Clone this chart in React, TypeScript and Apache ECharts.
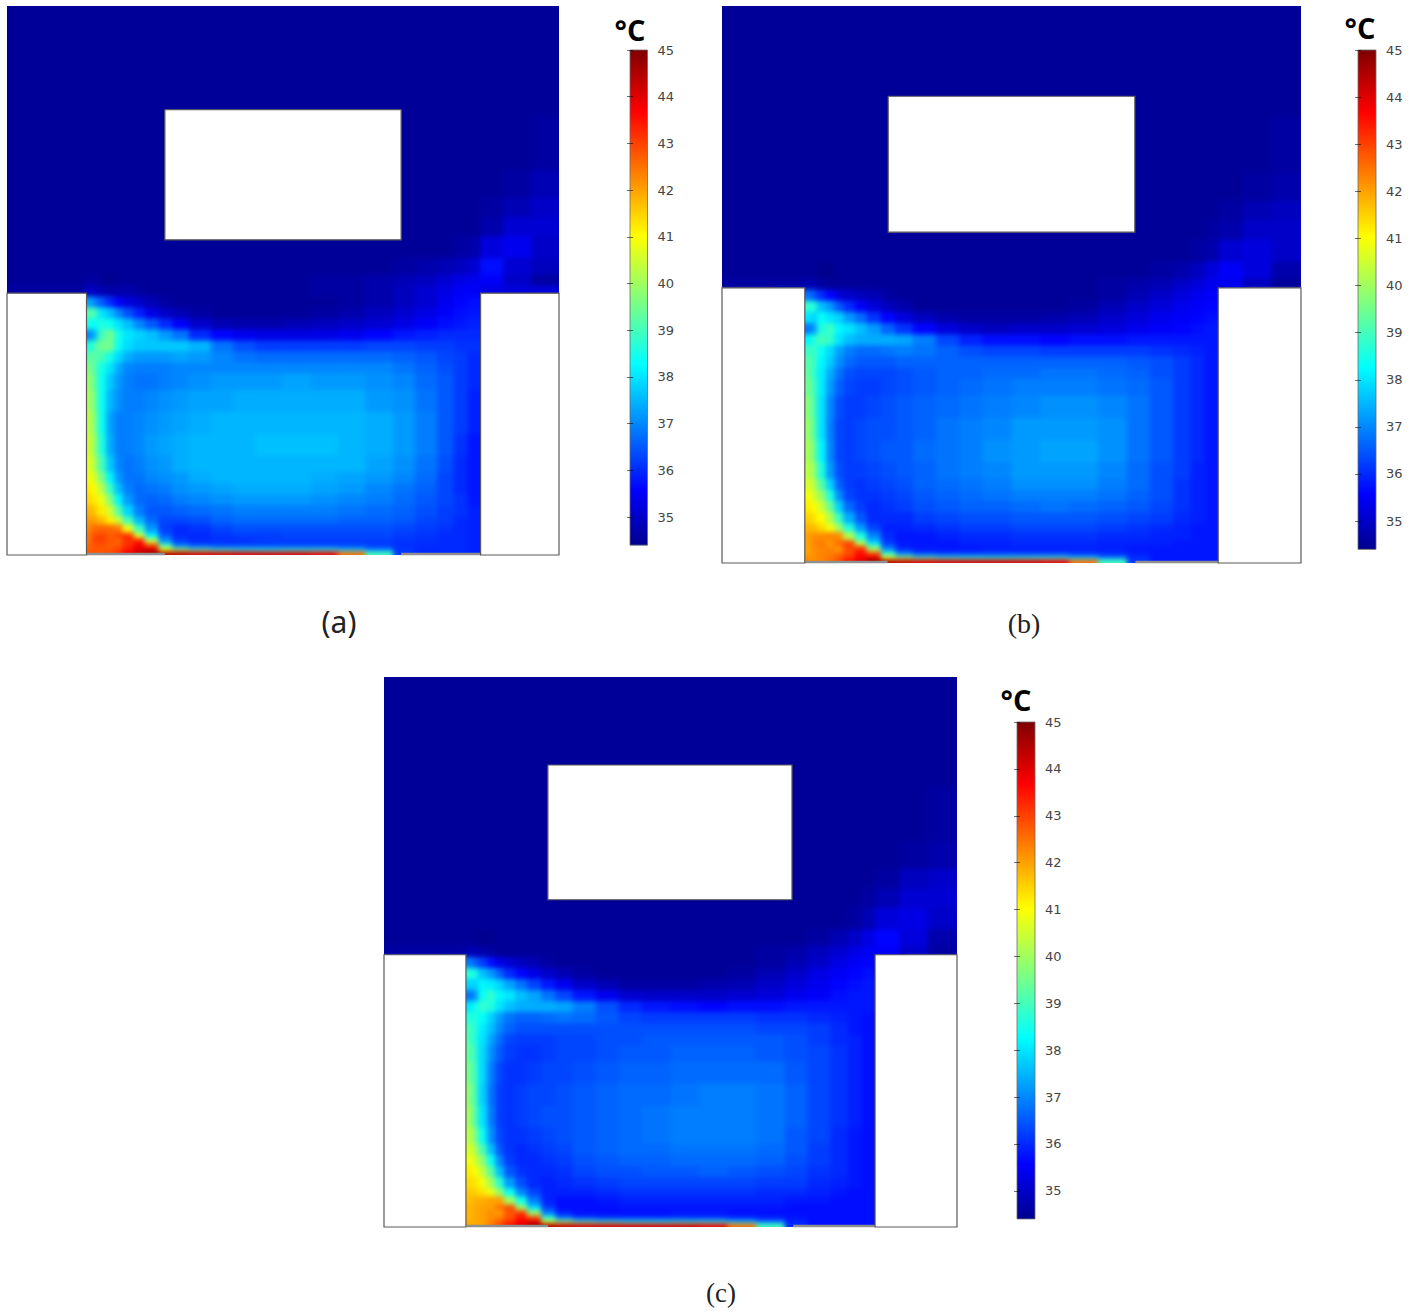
import React, { useEffect, useRef } from "react";
import * as echarts from "echarts";

const _ = null;
const tickValues = [35, 36, 37, 38, 39, 40, 41, 42, 43, 44, 45];
const xEdges = [0, 7, 14.4, 15.5, 16.5, 18, 19.5, 21, 23, 25, 27.5, 30, 33, 37, 41, 45, 50, 55, 60, 65, 70, 74, 78, 81, 83.5, 85.8, 90, 95, 100];
const yEdges = [0, 20, 30, 35, 38.5, 42, 46, 49, 51, 53, 55, 57, 59, 61, 63, 65, 67, 70, 74, 78, 82, 85, 87, 89, 91, 93, 94.5, 96, 97, 98, 98.8, 99.4, 100];

const tempA = [
  [34.5,34.5,34.5,34.5,34.5,34.5,34.5,34.5,34.5,34.5,34.5,34.5,34.5,34.5,34.5,34.5,34.5,34.5,34.5,34.5,34.5,34.5,34.5,34.5,34.5,34.5,34.5,34.5],
  [34.5,34.5,34.5,34.5,34.5,34.5,34.5,34.5,34.5,34.5,34.5,34.5,34.5,34.5,34.5,34.5,34.5,34.5,34.5,34.5,34.5,34.5,34.5,34.5,34.5,34.5,34.5,34.6],
  [34.5,34.5,34.5,34.5,34.5,34.5,34.5,34.5,34.5,34.5,34.5,34.5,34.5,34.5,34.5,34.5,34.5,34.5,34.5,34.5,34.5,34.5,34.5,34.5,34.5,34.5,34.6,34.8],
  [34.5,34.5,34.5,34.5,34.5,34.5,34.5,34.5,34.5,34.5,34.5,34.5,34.5,34.5,34.5,34.5,34.5,34.5,34.5,34.5,34.5,34.5,34.5,34.5,34.5,34.6,34.8,35.0],
  [34.5,34.5,34.5,34.5,34.5,34.5,34.5,34.5,34.5,34.5,34.5,34.5,34.5,34.5,34.5,34.5,34.5,34.5,34.5,34.5,34.5,34.5,34.5,34.5,34.5,34.7,35.1,35.1],
  [34.5,34.5,34.5,34.5,34.5,34.5,34.5,34.5,34.5,34.5,34.5,34.5,34.5,34.5,34.5,34.5,34.5,34.5,34.5,34.5,34.5,34.5,34.5,34.6,34.7,35.2,35.4,35.0],
  [34.5,34.5,34.5,34.5,34.5,34.5,34.5,34.5,34.5,34.5,34.5,34.5,34.5,34.5,34.5,34.5,34.5,34.5,34.5,34.5,34.6,34.7,34.8,34.9,35.1,35.7,35.1,34.9],
  [34.5,34.5,34.6,34.6,34.5,34.4,34.5,34.5,34.5,34.5,34.5,34.5,34.5,34.5,34.5,34.5,34.5,34.6,34.6,34.7,34.8,34.9,35.1,35.3,35.4,35.5,35.0,34.6],
  [34.6,34.6,35.0,34.9,34.8,34.7,34.7,34.7,34.6,34.5,34.5,34.5,34.5,34.5,34.5,34.5,34.5,34.6,34.6,34.7,34.9,35.1,35.3,35.5,35.5,35.3,35.2,35.2],
  [_,_,37.3,37,36.5,36,35.5,35.2,35,34.8,34.6,34.5,34.5,34.5,34.5,34.5,34.5,34.5,34.6,34.7,34.9,35.1,35.4,35.6,35.7,_,_,_],
  [_,_,39.2,39,38,37.6,37,36.4,35.9,35.3,35,34.8,34.6,34.5,34.5,34.5,34.5,34.6,34.7,34.9,35.1,35.3,35.5,35.7,35.8,_,_,_],
  [_,_,38.5,38.3,38.6,38.4,38,37.6,37,36.5,36,35.5,35,34.8,34.7,34.7,34.8,34.9,35,35.1,35.3,35.5,35.7,35.8,35.9,_,_,_],
  [_,_,37,37.5,39,39.5,38.5,38,37.8,37.6,37.2,36.8,36,35.6,35.4,35.3,35.3,35.3,35.4,35.6,35.8,35.9,36,36,36,_,_,_],
  [_,_,38.5,39,39.5,39.5,38.4,37.9,37.7,37.7,37.7,37.7,37.5,36.8,36.4,36.2,36.2,36.2,36.2,36.3,36.3,36.2,36.2,36.1,36.1,_,_,_],
  [_,_,39.2,39.3,39,38.5,37.9,37.4,37.2,37.2,37.2,37.3,37.2,37,36.8,36.7,36.7,36.7,36.7,36.7,36.6,36.5,36.3,36.2,36,_,_,_],
  [_,_,39.6,39.2,38.5,38,37.4,37,36.9,36.9,36.9,37,37,37,37,37,37,37,37,37,36.8,36.6,36.4,36.2,36,_,_,_],
  [_,_,39.9,39.3,38.4,37.7,37.2,36.9,36.8,36.8,36.9,37,37.1,37.2,37.2,37.2,37.3,37.2,37.2,37.1,37,36.7,36.5,36.2,36,_,_,_],
  [_,_,40.1,39.5,38.4,37.5,37.1,36.9,36.9,37,37.1,37.2,37.3,37.3,37.4,37.4,37.4,37.4,37.4,37.2,37.1,36.8,36.5,36.2,35.9,_,_,_],
  [_,_,40.3,39.7,38.4,37.3,36.9,36.9,37,37.1,37.2,37.3,37.4,37.5,37.5,37.5,37.5,37.5,37.5,37.4,37.2,36.9,36.5,36.2,35.9,_,_,_],
  [_,_,40.5,39.9,38.6,37.4,36.9,36.9,37,37.2,37.3,37.4,37.5,37.5,37.5,37.6,37.6,37.6,37.5,37.4,37.2,36.9,36.5,36.1,35.8,_,_,_],
  [_,_,40.7,40.2,39,37.7,37,36.8,36.9,37.1,37.2,37.4,37.5,37.5,37.5,37.5,37.5,37.5,37.5,37.3,37.1,36.8,36.4,36,35.8,_,_,_],
  [_,_,40.9,40.6,39.6,38.2,37.2,36.8,36.8,37,37.1,37.2,37.4,37.5,37.5,37.5,37.5,37.4,37.3,37.2,37,36.7,36.3,36,35.8,_,_,_],
  [_,_,41.2,41,40.2,38.9,37.6,36.9,36.7,36.8,36.9,37.1,37.2,37.3,37.4,37.4,37.4,37.3,37.2,37,36.8,36.6,36.3,36,35.8,_,_,_],
  [_,_,41.4,41.2,40.8,39.7,38.2,37.2,36.7,36.6,36.7,36.9,37,37.1,37.2,37.2,37.2,37.1,37,36.9,36.7,36.5,36.3,36.1,35.8,_,_,_],
  [_,_,41.8,41.6,41.2,40.5,39.2,37.8,36.9,36.5,36.5,36.6,36.7,36.8,36.9,36.9,36.9,36.9,36.8,36.7,36.6,36.4,36.2,36.1,35.9,_,_,_],
  [_,_,42.1,42,41.7,41.2,40.4,39,37.5,36.7,36.3,36.3,36.4,36.6,36.7,36.7,36.7,36.7,36.6,36.6,36.5,36.3,36.2,36,35.9,_,_,_],
  [_,_,42.3,42.6,42.6,42.6,42.4,40.8,38.9,37.2,36.2,36,36.1,36.3,36.4,36.4,36.4,36.4,36.4,36.4,36.3,36.2,36.1,36,35.9,_,_,_],
  [_,_,42.5,42.9,43,42.7,43,43.2,40.6,38.2,36.5,36,36,36.1,36.2,36.2,36.3,36.3,36.3,36.3,36.2,36.1,36,36,35.9,_,_,_],
  [_,_,42.5,43,43,42.8,42.6,43.2,43.4,40.4,37.2,36.2,36,36.1,36.1,36.2,36.2,36.2,36.2,36.2,36.1,36.1,36,36,35.9,_,_,_],
  [_,_,42.6,42.8,42.8,42.7,42.8,43.2,43.8,43.2,39.2,37,36.5,36.3,36.3,36.3,36.3,36.3,36.3,36.2,36.1,36,36,36,35.9,_,_,_],
  [_,_,42.7,42.8,42.8,42.8,43,43.5,44,44.2,41,40,39.2,38.8,38.5,38.5,38.6,38.6,37.8,36.9,36.1,36,36,36,35.9,_,_,_],
  [_,_,42.8,42.8,42.8,42.9,43.2,43.8,44.2,44.6,44.5,44.3,44,44,44,44,44,43.8,42.5,39,36.2,36,36,36,35.9,_,_,_],
];

const tempB = [
  [34.5,34.5,34.5,34.5,34.5,34.5,34.5,34.5,34.5,34.5,34.5,34.5,34.5,34.5,34.5,34.5,34.5,34.5,34.5,34.5,34.5,34.5,34.5,34.5,34.5,34.5,34.5,34.5],
  [34.5,34.5,34.5,34.5,34.5,34.5,34.5,34.5,34.5,34.5,34.5,34.5,34.5,34.5,34.5,34.5,34.5,34.5,34.5,34.5,34.5,34.5,34.5,34.5,34.5,34.5,34.5,34.6],
  [34.5,34.5,34.5,34.5,34.5,34.5,34.5,34.5,34.5,34.5,34.5,34.5,34.5,34.5,34.5,34.5,34.5,34.5,34.5,34.5,34.5,34.5,34.5,34.5,34.5,34.5,34.6,34.7],
  [34.5,34.5,34.5,34.5,34.5,34.5,34.5,34.5,34.5,34.5,34.5,34.5,34.5,34.5,34.5,34.5,34.5,34.5,34.5,34.5,34.5,34.5,34.5,34.5,34.5,34.6,34.8,34.9],
  [34.5,34.5,34.5,34.5,34.5,34.5,34.5,34.5,34.5,34.5,34.5,34.5,34.5,34.5,34.5,34.5,34.5,34.5,34.5,34.5,34.5,34.5,34.5,34.5,34.6,34.7,35.0,35.0],
  [34.5,34.5,34.5,34.5,34.5,34.5,34.5,34.5,34.5,34.5,34.5,34.5,34.5,34.5,34.5,34.5,34.5,34.5,34.5,34.5,34.5,34.5,34.5,34.6,34.7,35.1,35.2,35.0],
  [34.5,34.5,34.5,34.5,34.4,34.4,34.5,34.5,34.5,34.5,34.5,34.5,34.5,34.5,34.5,34.5,34.5,34.5,34.5,34.5,34.5,34.6,34.7,34.9,35.2,35.5,35.2,34.7],
  [34.6,34.6,34.8,34.7,34.6,34.5,34.5,34.5,34.5,34.5,34.5,34.5,34.5,34.5,34.5,34.5,34.5,34.5,34.5,34.6,34.7,34.8,35.0,35.2,35.4,35.4,34.9,34.5],
  [_,_,36.8,36.5,36,35.6,35.2,35,34.9,34.8,34.6,34.5,34.5,34.5,34.5,34.5,34.5,34.5,34.5,34.6,34.8,35,35.2,35.4,35.5,_,_,_],
  [_,_,38.8,38.6,37.6,37.2,36.5,36,35.5,35.2,34.9,34.7,34.5,34.5,34.5,34.5,34.5,34.5,34.6,34.8,35,35.2,35.4,35.5,35.6,_,_,_],
  [_,_,38,37.8,38.3,38,37.8,37.2,36.7,36.1,35.6,35.2,34.9,34.7,34.6,34.6,34.6,34.7,34.8,35,35.2,35.4,35.5,35.6,35.7,_,_,_],
  [_,_,36.8,37.2,38.6,38.9,38.2,38,37.6,37.2,36.6,36.1,35.6,35.2,35,34.9,35,35,35.1,35.2,35.4,35.5,35.6,35.7,35.8,_,_,_],
  [_,_,38.2,38.6,39,38.8,38,37.6,37.4,37.4,37.4,37.3,36.9,36.3,35.9,35.7,35.7,35.6,35.7,35.7,35.8,35.8,35.8,35.8,35.8,_,_,_],
  [_,_,38.9,38.9,38.4,37.9,37.3,36.9,36.7,36.7,36.8,36.9,36.8,36.6,36.4,36.3,36.3,36.2,36.2,36.2,36.2,36.1,36,35.9,35.8,_,_,_],
  [_,_,39.2,38.9,38.2,37.7,37.1,36.7,36.5,36.5,36.5,36.6,36.6,36.6,36.6,36.6,36.6,36.6,36.6,36.6,36.5,36.4,36.2,36,35.8,_,_,_],
  [_,_,39.3,38.8,38.1,37.4,36.8,36.4,36.3,36.3,36.3,36.4,36.5,36.6,36.6,36.7,36.7,36.8,36.8,36.7,36.6,36.4,36.2,36,35.8,_,_,_],
  [_,_,39.5,39,38.1,37.2,36.6,36.3,36.2,36.2,36.3,36.4,36.5,36.6,36.7,36.8,36.9,36.9,36.9,36.8,36.7,36.5,36.2,36,35.8,_,_,_],
  [_,_,39.7,39.1,38,37,36.4,36.2,36.2,36.3,36.4,36.5,36.6,36.7,36.8,36.9,37,37.1,37.1,37,36.8,36.5,36.2,36,35.8,_,_,_],
  [_,_,39.9,39.2,38,36.9,36.3,36.2,36.3,36.4,36.4,36.5,36.6,36.8,36.9,37,37.2,37.2,37.2,37.1,36.8,36.5,36.2,36,35.8,_,_,_],
  [_,_,40.1,39.5,38.2,37,36.3,36.2,36.3,36.4,36.5,36.5,36.7,36.8,36.9,37.1,37.2,37.3,37.3,37.1,36.8,36.5,36.2,36,35.8,_,_,_],
  [_,_,40.3,39.9,38.6,37.2,36.4,36.2,36.2,36.3,36.4,36.5,36.6,36.8,36.9,37,37.2,37.2,37.2,37,36.7,36.4,36.2,35.9,35.8,_,_,_],
  [_,_,40.6,40.3,39.2,37.8,36.6,36.2,36.1,36.2,36.3,36.4,36.6,36.7,36.8,36.9,37.1,37.1,37.1,36.9,36.7,36.4,36.1,35.9,35.8,_,_,_],
  [_,_,40.9,40.6,39.9,38.6,37.1,36.3,36.1,36.1,36.2,36.3,36.5,36.6,36.7,36.8,36.9,36.9,36.9,36.8,36.6,36.4,36.1,35.9,35.8,_,_,_],
  [_,_,41.2,41,40.5,39.4,37.8,36.7,36.2,36,36.1,36.2,36.4,36.5,36.6,36.6,36.7,36.8,36.7,36.6,36.5,36.3,36.1,35.9,35.8,_,_,_],
  [_,_,41.5,41.3,41,40.2,38.9,37.4,36.5,36,36,36,36.2,36.3,36.4,36.4,36.5,36.5,36.5,36.4,36.3,36.2,36,35.9,35.8,_,_,_],
  [_,_,41.8,41.7,41.4,40.9,40,38.6,37.2,36.3,35.9,35.9,36,36.1,36.2,36.2,36.3,36.3,36.3,36.2,36.1,36,35.9,35.8,35.8,_,_,_],
  [_,_,42,42.2,42.2,42.3,42.2,40.2,38.6,37,36,35.8,35.8,35.9,36,36,36.1,36.1,36.1,36,36,35.9,35.9,35.8,35.8,_,_,_],
  [_,_,42,42.3,42.4,42.1,42.6,43,40.2,38,36.2,35.8,35.8,35.8,35.9,35.9,36,36,36,35.9,35.9,35.9,35.8,35.8,35.8,_,_,_],
  [_,_,42,42.2,42.3,42.3,42.1,42.9,43.2,40,37,36,35.8,35.8,35.8,35.9,35.9,35.9,35.9,35.9,35.8,35.8,35.8,35.8,35.8,_,_,_],
  [_,_,42,42.2,42.3,42.4,42.5,42.9,43.6,43,38.9,37,36.4,36.2,36.2,36.2,36.2,36.2,36.1,36,35.9,35.8,35.8,35.8,35.8,_,_,_],
  [_,_,42.2,42.2,42.3,42.5,42.8,43.2,43.7,44,40.8,40,39.2,38.8,38.6,38.6,38.7,38.7,37.8,36.9,36,35.8,35.8,35.8,35.8,_,_,_],
  [_,_,42.2,42.2,42.3,42.5,42.9,43.5,44,44.6,44.5,44.2,44,44,44,44,44,43.8,42.5,39,36.2,35.8,35.8,35.8,35.8,_,_,_],
];

const tempC = [
  [34.5,34.5,34.5,34.5,34.5,34.5,34.5,34.5,34.5,34.5,34.5,34.5,34.5,34.5,34.5,34.5,34.5,34.5,34.5,34.5,34.5,34.5,34.5,34.5,34.5,34.5,34.5,34.5],
  [34.5,34.5,34.5,34.5,34.5,34.5,34.5,34.5,34.5,34.5,34.5,34.5,34.5,34.5,34.5,34.5,34.5,34.5,34.5,34.5,34.5,34.5,34.5,34.5,34.5,34.5,34.5,34.6],
  [34.5,34.5,34.5,34.5,34.5,34.5,34.5,34.5,34.5,34.5,34.5,34.5,34.5,34.5,34.5,34.5,34.5,34.5,34.5,34.5,34.5,34.5,34.5,34.5,34.5,34.5,34.6,34.7],
  [34.5,34.5,34.5,34.5,34.5,34.5,34.5,34.5,34.5,34.5,34.5,34.5,34.5,34.5,34.5,34.5,34.5,34.5,34.5,34.5,34.5,34.5,34.5,34.5,34.5,34.6,34.9,35.0],
  [34.5,34.5,34.5,34.5,34.5,34.5,34.5,34.5,34.5,34.5,34.5,34.5,34.5,34.5,34.5,34.5,34.5,34.5,34.5,34.5,34.5,34.5,34.5,34.5,34.6,34.8,35.1,35.1],
  [34.5,34.5,34.5,34.5,34.5,34.5,34.5,34.5,34.5,34.5,34.5,34.5,34.5,34.5,34.5,34.5,34.5,34.5,34.5,34.5,34.5,34.5,34.5,34.6,34.8,35.2,35.3,35.0],
  [34.5,34.5,34.5,34.5,34.4,34.4,34.5,34.5,34.5,34.5,34.5,34.5,34.5,34.5,34.5,34.5,34.5,34.5,34.5,34.5,34.5,34.6,34.8,35.0,35.3,35.6,35.2,34.7],
  [34.6,34.6,34.8,34.8,34.7,34.6,34.5,34.5,34.5,34.5,34.5,34.5,34.5,34.5,34.5,34.5,34.5,34.5,34.5,34.6,34.7,34.9,35.1,35.3,35.5,35.5,35,34.6],
  [_,_,36.9,36.6,36.2,35.7,35.3,35.1,34.9,34.8,34.6,34.5,34.5,34.5,34.5,34.5,34.5,34.5,34.5,34.6,34.8,35,35.3,35.5,35.6,_,_,_],
  [_,_,38.7,38.5,37.6,37.2,36.6,36,35.6,35.3,35,34.8,34.6,34.5,34.5,34.5,34.5,34.5,34.6,34.8,35,35.3,35.5,35.6,35.7,_,_,_],
  [_,_,37.8,37.8,38.2,38.1,37.8,37.3,36.8,36.3,35.8,35.4,35,34.8,34.6,34.6,34.6,34.7,34.8,35,35.2,35.4,35.6,35.7,35.8,_,_,_],
  [_,_,36.8,37.1,38.4,38.8,38.2,38,37.6,37.3,36.8,36.3,35.8,35.4,35.1,35,35,35,35.1,35.2,35.4,35.5,35.7,35.8,35.8,_,_,_],
  [_,_,38,38.4,38.8,38.6,38,37.6,37.4,37.4,37.4,37.3,36.9,36.4,36,35.8,35.7,35.6,35.7,35.7,35.8,35.8,35.8,35.8,35.8,_,_,_],
  [_,_,38.6,38.6,38.3,37.8,37.2,36.8,36.6,36.6,36.7,36.8,36.7,36.5,36.3,36.2,36.2,36.2,36.2,36.1,36.1,36,35.9,35.8,35.7,_,_,_],
  [_,_,39,38.7,38.1,37.6,37,36.6,36.4,36.4,36.4,36.4,36.4,36.4,36.4,36.4,36.4,36.4,36.4,36.3,36.3,36.2,36,35.8,35.7,_,_,_],
  [_,_,39.1,38.6,38,37.3,36.7,36.3,36.2,36.2,36.2,36.3,36.3,36.4,36.4,36.5,36.5,36.5,36.5,36.5,36.4,36.2,36,35.9,35.7,_,_,_],
  [_,_,39.3,38.8,37.9,37.1,36.5,36.2,36.1,36.1,36.2,36.3,36.3,36.4,36.5,36.5,36.6,36.6,36.6,36.5,36.4,36.3,36.1,35.9,35.7,_,_,_],
  [_,_,39.5,38.9,37.9,36.9,36.3,36.1,36.1,36.2,36.3,36.3,36.4,36.5,36.6,36.6,36.7,36.7,36.7,36.7,36.5,36.3,36.1,35.9,35.7,_,_,_],
  [_,_,39.8,39,37.8,36.8,36.2,36.1,36.2,36.3,36.3,36.4,36.5,36.6,36.7,36.7,36.8,36.9,36.9,36.8,36.6,36.3,36.1,35.9,35.7,_,_,_],
  [_,_,40,39.2,38,36.9,36.2,36.1,36.2,36.3,36.4,36.4,36.5,36.6,36.7,36.8,36.9,36.9,36.9,36.8,36.6,36.3,36.1,35.9,35.7,_,_,_],
  [_,_,40.3,39.7,38.4,37.1,36.3,36.1,36.1,36.2,36.3,36.4,36.5,36.6,36.7,36.8,36.9,36.9,36.9,36.8,36.5,36.3,36,35.8,35.7,_,_,_],
  [_,_,40.6,40.2,39.1,37.6,36.5,36.1,36,36.1,36.2,36.3,36.5,36.6,36.7,36.7,36.8,36.8,36.8,36.7,36.5,36.2,36,35.8,35.7,_,_,_],
  [_,_,40.9,40.6,39.8,38.4,37,36.2,36,36,36.1,36.2,36.4,36.5,36.6,36.6,36.7,36.7,36.7,36.6,36.4,36.2,36,35.8,35.7,_,_,_],
  [_,_,41.2,41,40.4,39.2,37.6,36.5,36.1,36,36,36.1,36.3,36.4,36.4,36.5,36.5,36.6,36.5,36.4,36.3,36.1,36,35.8,35.7,_,_,_],
  [_,_,41.4,41.3,40.9,40,38.7,37.2,36.4,36,35.9,36,36.1,36.2,36.3,36.3,36.3,36.3,36.3,36.2,36.2,36,35.9,35.8,35.7,_,_,_],
  [_,_,41.6,41.5,41.3,40.8,39.8,38.4,37,36.3,35.9,35.9,35.9,36,36.1,36.1,36.1,36.1,36.1,36,36,35.9,35.8,35.7,35.7,_,_,_],
  [_,_,41.7,41.8,41.9,42,42,40,38.5,36.9,35.9,35.7,35.7,35.8,35.9,35.9,35.9,35.9,35.9,35.9,35.8,35.8,35.7,35.7,35.7,_,_,_],
  [_,_,41.8,41.9,42,42,42.5,42.9,40,37.9,36.2,35.7,35.7,35.7,35.8,35.8,35.8,35.8,35.8,35.8,35.7,35.7,35.7,35.7,35.7,_,_,_],
  [_,_,41.8,41.9,42,42.2,42,42.8,43.1,39.9,36.9,35.9,35.7,35.7,35.7,35.7,35.8,35.8,35.7,35.7,35.7,35.7,35.7,35.7,35.7,_,_,_],
  [_,_,41.8,41.9,42,42.2,42.4,42.8,43.5,43,38.8,36.9,36.3,36.1,36.1,36.1,36.1,36.1,36,35.9,35.8,35.7,35.7,35.7,35.7,_,_,_],
  [_,_,41.9,41.9,42,42.3,42.7,43.2,43.7,44,40.6,39.9,39.1,38.8,38.6,38.6,38.7,38.7,37.8,36.8,35.9,35.7,35.7,35.7,35.7,_,_,_],
  [_,_,41.9,41.9,42,42.4,42.9,43.5,44,44.6,44.5,44.2,44,44,44,44,44,43.8,42.5,39,36,35.7,35.7,35.7,35.7,_,_,_],
];

// obstacles, in percent of each domain: [x0, x1, y0, y1]
const solidsA = [[28.6, 71.4, 18.9, 42.6], [0, 14.4, 52.3, 100], [85.8, 100, 52.3, 100]];
const solidsB = [[28.7, 71.3, 16.2, 40.6], [0, 14.3, 50.6, 100], [85.7, 100, 50.6, 100]];
const solidsC = [[28.6, 71.2, 16, 40.5], [0, 14.3, 50.5, 100], [85.7, 100, 50.5, 100]];
// unheated floor strips beside the heated section: [x0, x1]
const floorStrips = [[14.4, 28.6], [71.4, 85.8]];

const jetStops: [number, number[]][] = [
  [0, [0, 0, 143]], [0.11, [0, 0, 255]], [0.365, [0, 255, 255]],
  [0.625, [255, 255, 0]], [0.875, [255, 0, 0]], [1, [128, 0, 0]],
];
const SCALE_MIN = 34.4, SCALE_MAX = 45;
function jet(t: number) {
  const c = Math.max(0, Math.min(1, t));
  for (let i = 1; i < jetStops.length; i++) {
    if (c <= jetStops[i][0]) {
      const [a, ca] = jetStops[i - 1], [b, cb] = jetStops[i];
      const f = (c - a) / (b - a);
      return `rgb(${ca.map((v, k) => Math.round(v + (cb[k] - v) * f)).join(",")})`;
    }
  }
  return "rgb(128,0,0)";
}
const tempColor = (v: number) => jet((v - SCALE_MIN) / (SCALE_MAX - SCALE_MIN));

function cells(table: (number | null)[][]) {
  const out: number[][] = [];
  table.forEach((row, j) => row.forEach((v, i) => {
    if (v == null) return;
    // cells beside a solid or the outer edge paint a little past it, so the soft filter does not fade there
    const padL = i === 0 || row[i - 1] == null ? 5 : 0;
    const padR = i === row.length - 1 || row[i + 1] == null ? 5 : 0;
    const padT = j === 0 ? 5 : 0;
    const padB = j === table.length - 1 ? 5 : 0;
    out.push([xEdges[i] - padL, xEdges[i + 1] + padR, yEdges[j] - padT, yEdges[j + 1] + padB, v]);
  }));
  return out;
}

const renderCell = (_p: any, api: any) => {
  const a = api.coord([api.value(0), api.value(2)]);
  const b = api.coord([api.value(1), api.value(3)]);
  return { type: "rect", shape: { x: a[0] - 0.4, y: a[1] - 0.4, width: b[0] - a[0] + 0.8, height: b[1] - a[1] + 0.8 }, style: { fill: tempColor(api.value(4)), stroke: null } };
};
const renderSolid = (_p: any, api: any) => {
  const a = api.coord([api.value(0), api.value(2)]);
  const b = api.coord([api.value(1), api.value(3)]);
  return { type: "rect", shape: { x: a[0], y: a[1], width: b[0] - a[0], height: b[1] - a[1] }, style: { fill: "#fff", stroke: "#5a5a5a", lineWidth: 1.2 } };
};
const renderStrip = (_p: any, api: any) => {
  const a = api.coord([api.value(0), 100]);
  const b = api.coord([api.value(1), 100]);
  return { type: "line", shape: { x1: a[0], y1: a[1] - 1, x2: b[0], y2: b[1] - 1 }, style: { stroke: "#8f8f8f", lineWidth: 2.4 } };
};
const renderBar = (_p: any, api: any) => {
  const a = api.coord([0, SCALE_MAX]);
  const b = api.coord([1, SCALE_MIN]);
  return {
    type: "rect", shape: { x: a[0], y: a[1], width: b[0] - a[0], height: b[1] - a[1] },
    style: {
      fill: new echarts.graphic.LinearGradient(0, 1, 0, 0, jetStops.map(([o]) => ({ offset: o, color: jet(o) }))),
      stroke: "#6b6b6b", lineWidth: 0.8,
    },
  };
};

const BLEED = 24;
const panels = [
  { field: tempA, solids: solidsA, box: [7, 6, 552, 549], bar: [630, 50, 17.5, 497], barMin: 34.36 },
  { field: tempB, solids: solidsB, box: [722, 6, 579, 557], bar: [1358, 50, 18, 497], barMin: 34.45 },
  { field: tempC, solids: solidsC, box: [384, 677, 573, 550], bar: [1017, 722, 18, 496], barMin: 34.42 },
];
const unitTexts = [
  { x: 630, y: 29 }, { x: 1360, y: 27 }, { x: 1016, y: 699 },
];
const panelLabels = [
  { text: "(a)", x: 339, y: 621, font: "Noto Sans", size: 30 },
  { text: "(b)", x: 1024, y: 623, font: "Liberation Serif", size: 28 },
  { text: "(c)", x: 721, y: 1293, font: "Liberation Serif", size: 27 },
];

function fieldOption(p: (typeof panels)[number]) {
  return {
    animation: false,
    grid: { left: BLEED, top: BLEED, width: p.box[2], height: p.box[3], show: false },
    xAxis: { type: "value", min: 0, max: 100, show: false },
    yAxis: { type: "value", min: 0, max: 100, inverse: true, show: false },
    series: [{ type: "custom", coordinateSystem: "cartesian2d", silent: true, progressive: 0, clip: false, data: cells(p.field), renderItem: renderCell }],
  };
}

function overlayOption() {
  const grid: any[] = [], xAxis: any[] = [], yAxis: any[] = [], series: any[] = [];
  panels.forEach((p) => {
    const gi = grid.length;
    grid.push({ left: p.box[0], top: p.box[1], width: p.box[2], height: p.box[3], show: false });
    xAxis.push({ type: "value", gridIndex: gi, min: 0, max: 100, show: false });
    const yi = yAxis.length;
    yAxis.push({ type: "value", gridIndex: gi, min: 0, max: 100, inverse: true, show: false });
    const common = { type: "custom", coordinateSystem: "cartesian2d", xAxisIndex: gi, yAxisIndex: yi, silent: true, clip: false };
    series.push({ ...common, data: floorStrips, renderItem: renderStrip, z: 3 });
    series.push({ ...common, data: p.solids, renderItem: renderSolid, z: 4 });
    // colour bar
    const gb = grid.length;
    grid.push({ left: p.bar[0], top: p.bar[1], width: p.bar[2], height: p.bar[3], show: false });
    xAxis.push({ type: "value", gridIndex: gb, min: 0, max: 1, show: false });
    const tickStyle = { show: true, inside: true, length: 3, lineStyle: { color: "rgba(0,0,0,0.55)", width: 1 }, customValues: tickValues };
    const yb = yAxis.length;
    yAxis.push({
      type: "value", gridIndex: gb, position: "right", min: p.barMin, max: SCALE_MAX, splitLine: { show: false },
      axisLine: { show: false }, axisTick: tickStyle,
      axisLabel: { show: true, margin: 10, color: "#444", fontFamily: "DejaVu Sans", fontSize: 13, customValues: tickValues, formatter: (v: number) => String(v) },
      z: 6,
    });
    yAxis.push({
      type: "value", gridIndex: gb, position: "left", min: p.barMin, max: SCALE_MAX, splitLine: { show: false },
      axisLine: { show: false }, axisTick: tickStyle, axisLabel: { show: false }, z: 6,
    });
    series.push({ type: "custom", coordinateSystem: "cartesian2d", xAxisIndex: gb, yAxisIndex: yb, silent: true, data: [[0]], renderItem: renderBar, z: 2, clip: false });
  });
  const graphic = [
    ...unitTexts.map((u) => ({ type: "text", x: u.x, y: u.y, style: { text: "°C", fontFamily: "Open Sans", fontWeight: 700, fontSize: 29, fill: "#000", align: "center", verticalAlign: "middle" } })),
    ...panelLabels.map((l) => ({ type: "text", x: l.x, y: l.y, style: { text: l.text, fontFamily: l.font, fontSize: l.size, fill: "#222", align: "center", verticalAlign: "middle" } })),
  ];
  return { animation: false, backgroundColor: "transparent", grid, xAxis, yAxis, series, graphic };
}

function FieldLayer({ panel }: { panel: (typeof panels)[number] }) {
  const ref = useRef<HTMLDivElement>(null);
  useEffect(() => {
    const chart = echarts.init(ref.current!, undefined, { renderer: "svg" });
    chart.setOption(fieldOption(panel) as any);
    return () => chart.dispose();
  }, [panel]);
  const [l, t, w, h] = panel.box;
  return (
    <div style={{ position: "absolute", left: l, top: t, width: w, height: h, overflow: "hidden" }}>
      <div ref={ref} style={{ position: "absolute", left: -BLEED, top: -BLEED, width: w + 2 * BLEED, height: h + 2 * BLEED, filter: "blur(2.5px)" }} />
    </div>
  );
}

export default function App() {
  const ref = useRef<HTMLDivElement>(null);
  useEffect(() => {
    const chart = echarts.init(ref.current!, undefined, { renderer: "svg" });
    chart.setOption(overlayOption() as any);
    return () => chart.dispose();
  }, []);
  return (
    <div style={{ position: "absolute", left: 0, top: 0, width: 1411, height: 1312, background: "#fff" }}>
      {panels.map((p, i) => <FieldLayer key={i} panel={p} />)}
      <div ref={ref} style={{ position: "absolute", left: 0, top: 0, width: 1411, height: 1312 }} />
    </div>
  );
}
